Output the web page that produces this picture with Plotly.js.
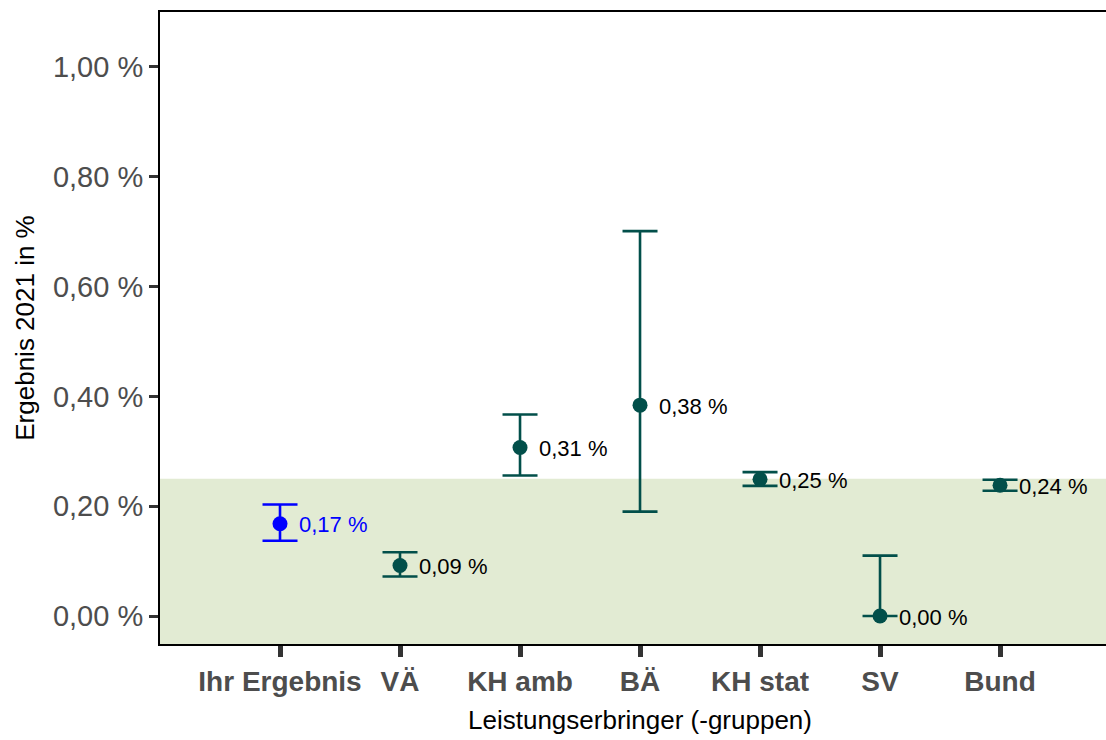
<!DOCTYPE html>
<html>
<head>
<meta charset="utf-8">
<script src="https://cdn.plot.ly/plotly-3.0.1.min.js"></script>
<style>html,body{margin:0;padding:0;background:#fff;}#chart{width:1106px;height:740px;}</style>
</head>
<body>
<div id="chart"></div>
<script>
const categories = ["Ihr Ergebnis", "VÄ", "KH amb", "BÄ", "KH stat", "SV", "Bund"];
const values = [0.168, 0.092, 0.307, 0.384, 0.249, 0.000, 0.238];
const lower = [0.137, 0.072, 0.256, 0.190, 0.237, 0.000, 0.228];
const upper = [0.203, 0.116, 0.367, 0.701, 0.262, 0.110, 0.248];
const referenceLimit = 0.25;
const yTickVals = [0, 0.2, 0.4, 0.6, 0.8, 1.0];

const fmt = v => v.toFixed(2).replace('.', ',') + ' %';
const teal = '#024f4a';
const blue = '#0000ff';
const FONT = 'Liberation Sans, Arial, sans-serif';

function makeTrace(idx, color) {
  return {
    type: 'scatter',
    mode: 'markers',
    x: idx.map(i => categories[i]),
    y: idx.map(i => values[i]),
    marker: {color: color, size: 15},
    error_y: {
      type: 'data', symmetric: false,
      array: idx.map(i => upper[i] - values[i]),
      arrayminus: idx.map(i => values[i] - lower[i]),
      color: color, thickness: 2.6, width: 17.5
    },
    cliponaxis: false,
    hoverinfo: 'skip',
    showlegend: false
  };
}

const traces = [makeTrace([0], blue), makeTrace([1,2,3,4,5,6], teal)];

const annotations = categories.map((c, i) => ({
  x: c, y: values[i], xref: 'x', yref: 'y',
  text: fmt(values[i]), showarrow: false,
  xanchor: 'left', yanchor: 'middle', xshift: 17, yshift: -1,
  font: {family: FONT, size: 22, color: i === 0 ? blue : '#000'}
}));
annotations.push({
  xref: 'paper', yref: 'paper', x: 0.5074, y: -0.1203,
  xanchor: 'center', yanchor: 'middle', showarrow: false,
  text: 'Leistungserbringer (-gruppen)',
  font: {family: FONT, size: 26, color: '#000'}
});

const layout = {
  width: 1106, height: 740,
  margin: {l: 160, r: 0, t: 12, b: 96},
  paper_bgcolor: '#fff', plot_bgcolor: '#fff',
  font: {family: FONT, color: '#000'},
  separators: ',.',
  showlegend: false,
  xaxis: {
    type: 'category',
    categoryorder: 'array', categoryarray: categories,
    range: [-1, 6.883],
    showgrid: false, zeroline: false,
    showline: true, linecolor: '#000', linewidth: 2, mirror: true,
    ticks: 'outside', ticklen: 11, tickwidth: 5, tickcolor: '#333',
    tickfont: {family: FONT, size: 28, color: '#4d4d4d', weight: 'bold'}
  },
  yaxis: {
    range: [-0.051, 1.100],
    tickmode: 'array',
    tickvals: yTickVals,
    ticktext: yTickVals.map(fmt),
    showgrid: false, zeroline: false,
    showline: true, linecolor: '#000', linewidth: 2,
    ticks: 'outside', ticklen: 9, tickwidth: 3, tickcolor: '#333',
    tickfont: {family: FONT, size: 29, color: '#4d4d4d'},
    title: {text: 'Ergebnis 2021 in %', font: {family: FONT, size: 26, color: '#000'}, standoff: 11}
  },
  annotations: annotations,
  shapes: [{
    type: 'rect', xref: 'paper', yref: 'y',
    x0: 0, x1: 1, y0: -0.051, y1: referenceLimit,
    fillcolor: '#e2ebd3', line: {width: 0}, layer: 'below'
  }]
};

Plotly.newPlot('chart', traces, layout, {displayModeBar: false, staticPlot: true});
</script>
</body>
</html>
